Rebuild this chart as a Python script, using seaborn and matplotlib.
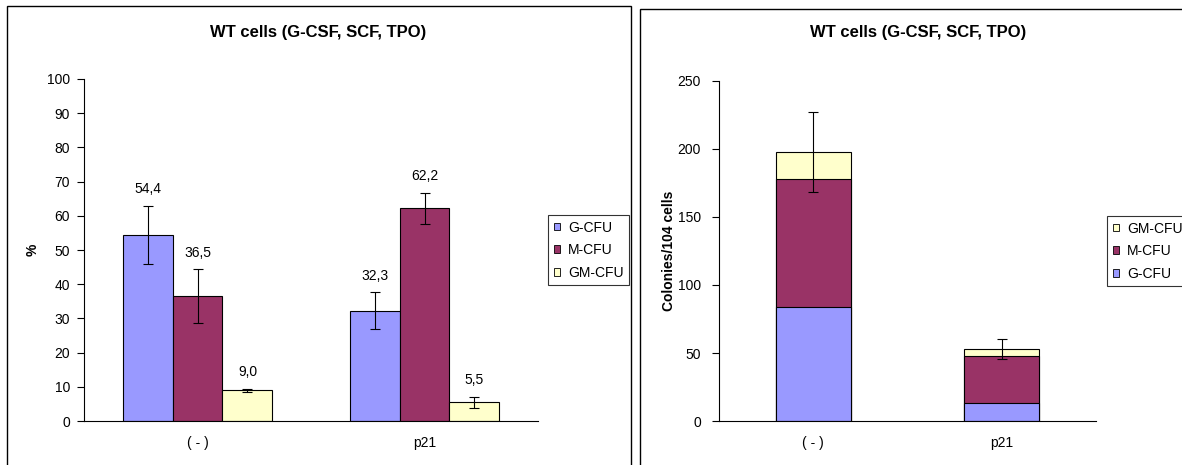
import matplotlib
matplotlib.use("Agg")
import matplotlib.pyplot as plt
from matplotlib.patches import Rectangle, Patch
import seaborn as sns
import pandas as pd

# ---- data ----
conditions = ["( - )", "p21"]
types = ["G-CFU", "M-CFU", "GM-CFU"]
pct_g = [54.4, 32.3]
pct_m = [36.5, 62.2]
pct_gm = [9.0, 5.5]
pct_g_err = [8.5, 5.4]
pct_m_err = [7.9, 4.6]
pct_gm_err = [0.5, 1.6]

col_g = [84, 13]
col_m = [94, 35]
col_gm = [20, 5]
col_total_err = [29.5, 7.4]

colors = {"G-CFU": "#9999FF", "M-CFU": "#993366", "GM-CFU": "#FFFFCC"}
title = "WT cells (G-CSF, SCF, TPO)"

sns.set_style("white")
plt.rcParams["font.family"] = ["Liberation Sans", "DejaVu Sans"]
plt.rcParams["text.color"] = "black"
plt.rcParams["axes.labelcolor"] = "black"
plt.rcParams["xtick.color"] = "black"
plt.rcParams["ytick.color"] = "black"

W, H = 1182, 465
fig = plt.figure(figsize=(W / 100, H / 100), dpi=100)


def fx(px):
    return px / W


def fy(py):
    return 1 - py / H


# panel frames
fig.add_artist(Rectangle((fx(7), fy(475)), fx(631) - fx(7), fy(6) - fy(475),
                         transform=fig.transFigure, fill=False, ec="black", lw=1))
fig.add_artist(Rectangle((fx(640), fy(475)), fx(1195) - fx(640), fy(9) - fy(475),
                         transform=fig.transFigure, fill=False, ec="black", lw=1))


def style_axes(ax, ypad):
    for s in ["top", "right"]:
        ax.spines[s].set_visible(False)
    for s in ["left", "bottom"]:
        ax.spines[s].set_color("black")
        ax.spines[s].set_linewidth(0.8)
    ax.set_xlim(-0.5, 1.5)
    ax.set_xticks([0, 1])
    ax.set_xticklabels(conditions)
    ax.set_xticks([-0.5, 0.5, 1.5], minor=True)
    ax.tick_params(axis="x", which="major", length=0, labelsize=10, pad=11)
    ax.tick_params(axis="x", which="minor", length=5, width=0.8, direction="out")
    ax.tick_params(axis="y", length=5, width=0.8, direction="out", labelsize=10,
                   left=True, pad=ypad)
    ax.set_xlabel("")


legend_kw = dict(loc="upper left", fontsize=10, frameon=True, fancybox=False,
                 edgecolor="black", handlelength=0.45, handleheight=0.45,
                 handletextpad=0.6, borderpad=0.4, labelspacing=0.62,
                 borderaxespad=0)

# ---- left chart ----
axL = fig.add_axes([fx(84), fy(421), fx(538) - fx(84), fy(79) - fy(421)])
dfL = pd.DataFrame({
    "cond": conditions * 3,
    "type": [types[0]] * 2 + [types[1]] * 2 + [types[2]] * 2,
    "val": pct_g + pct_m + pct_gm,
    "err": pct_g_err + pct_m_err + pct_gm_err,
})
sns.barplot(data=dfL, x="cond", y="val", hue="type", order=conditions, hue_order=types,
            palette=colors, saturation=1, width=0.66, errorbar=None,
            edgecolor="black", linewidth=0.8, ax=axL, legend=False)
bars = [p for p in axL.patches if isinstance(p, Rectangle) and p.get_width() > 0]
bars = sorted(bars, key=lambda p: p.get_x())
vals_sorted = []
for c in conditions:
    for t in types:
        row = dfL[(dfL.cond == c) & (dfL.type == t)].iloc[0]
        vals_sorted.append((row.val, row.err))
for p, (v, e) in zip(bars, vals_sorted):
    xc = p.get_x() + p.get_width() / 2
    axL.errorbar(xc, v, yerr=e, fmt="none", ecolor="black", elinewidth=0.8,
                 capsize=3.3, capthick=0.8)
    axL.text(xc, v + e + 4.8, f"{v:.1f}".replace(".", ","), ha="center",
             va="center", fontsize=10)
axL.set_ylim(0, 100)
axL.set_yticks(range(0, 101, 10))
style_axes(axL, 5)
axL.set_ylabel("%", fontsize=10, fontweight="bold", labelpad=5.5)
fig.text(fx(318.5), fy(32), title, fontsize=12, fontweight="bold",
         ha="center", va="center")

hL = [Patch(facecolor=colors[t], edgecolor="black", linewidth=0.6) for t in types]
legL = fig.legend(hL, types, bbox_to_anchor=(fx(548), fy(215)), **legend_kw)
legL.get_frame().set_linewidth(0.8)

# ---- right chart ----
axR = fig.add_axes([fx(719), fy(421), fx(1096) - fx(719), fy(81) - fy(421)])
tot_gm = [a + b + c for a, b, c in zip(col_g, col_m, col_gm)]
tot_m = [a + b for a, b in zip(col_g, col_m)]
for heights, t in [(tot_gm, "GM-CFU"), (tot_m, "M-CFU"), (col_g, "G-CFU")]:
    sns.barplot(x=conditions, y=heights, order=conditions, color=colors[t],
                saturation=1, width=0.4, edgecolor="black", linewidth=0.8,
                errorbar=None, ax=axR)
axR.errorbar([0, 1], tot_gm, yerr=col_total_err, fmt="none", ecolor="black",
             elinewidth=0.8, capsize=3.5, capthick=0.8)
axR.set_ylim(0, 250)
axR.set_yticks(range(0, 251, 50))
style_axes(axR, 8)
axR.set_ylabel("Colonies/104 cells", fontsize=10, fontweight="bold", labelpad=1)
fig.text(fx(918), fy(32), title, fontsize=12, fontweight="bold",
         ha="center", va="center")

rtypes = types[::-1]
hR = [Patch(facecolor=colors[t], edgecolor="black", linewidth=0.6) for t in rtypes]
legR = fig.legend(hR, rtypes, bbox_to_anchor=(fx(1107), fy(216)), **legend_kw)
legR.get_frame().set_linewidth(0.8)

fig.savefig("out.png", dpi=100)
